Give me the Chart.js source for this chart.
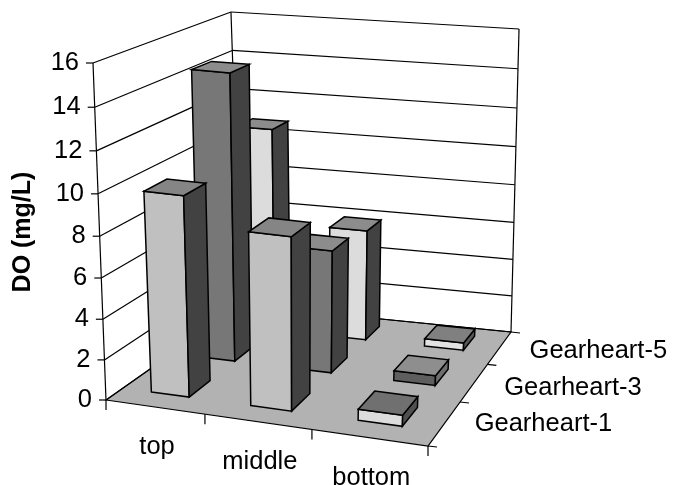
<!DOCTYPE html>
<html>
<head>
<meta charset="utf-8">
<style>
  html, body { margin: 0; padding: 0; background: #fff; }
  canvas { display: block; }
</style>
<script src="https://cdn.jsdelivr.net/npm/chart.js@4/dist/chart.umd.js"></script>
</head>
<body>
<canvas id="chart" width="673" height="485"></canvas>
<script>
// datos
const categorias = ["top", "middle", "bottom"];
const series = ["Gearheart-1", "Gearheart-3", "Gearheart-5"];
const gearheart1 = [9.85, 8.5, 0.55];
const gearheart3 = [14.5, 6.25, 0.5];
const gearheart5 = [10.7, 5.85, 0.4];

// colores por barra: frente, lado, tapa
const frente1 = ["#c0c0c0", "#c0c0c0", "#dcdcdc"];
const frente3 = ["#777777", "#777777", "#5e5e5e"];
const frente5 = ["#dcdcdc", "#dcdcdc", "#e2e2e2"];
const lado1 = ["#424242", "#424242", "#505050"];
const lado3 = ["#424242", "#424242", "#6e6e6e"];
const lado5 = ["#424242", "#424242", "#585858"];
const tapa1 = ["#858585", "#858585", "#707070"];
const tapa3 = ["#8c8c8c", "#8c8c8c", "#8e8e8e"];
const tapa5 = ["#8c8c8c", "#8c8c8c", "#808080"];

const FUENTE = '"Liberation Sans", Arial, sans-serif';

// caja 3d: esquinas del piso, alto en cada esquina y fuga de las verticales
const piso = [[106, 400], [428, 446], [511, 332], [241, 305]];
const altos = [337, 345, 303, 293];
const FUGA_CAJA = [345, 6600];
const FUGA_BARRAS = [300, 4400];
const AJUSTE_FONDO = -5.2;
const PERSP = 0.0576;
const ANCHO_BARRA = 0.39;
const PROF_BARRA = 0.44;
const CORRE_U = -0.002;
const CORRE_V = 0.012;
const AJUSTE_SERIE = [0, 4, 2];

function homografia(q) {
  const [A, B, C, D] = q;
  const dx1 = B[0] - C[0], dy1 = B[1] - C[1];
  const dx2 = D[0] - C[0], dy2 = D[1] - C[1];
  const sx = A[0] - B[0] + C[0] - D[0], sy = A[1] - B[1] + C[1] - D[1];
  const det = dx1 * dy2 - dy1 * dx2;
  const g = (sx * dy2 - sy * dx2) / det;
  const h = (dx1 * sy - dy1 * sx) / det;
  const a = B[0] - A[0] + g * B[0], b = D[0] - A[0] + h * D[0];
  const d = B[1] - A[1] + g * B[1], e = D[1] - A[1] + h * D[1];
  return (u, v) => {
    const den = g * u + h * v + 1;
    return [(a * u + b * v + A[0]) / den, (d * u + e * v + A[1]) / den];
  };
}
const hPiso = homografia(piso);

function proyectar(u, v, w, fuga = FUGA_CAJA) {
  const t = w / (1 + PERSP * (1 - w));
  const p = hPiso(u, v);
  const alto =
    altos[0] * (1 - u) * (1 - v) + altos[1] * u * (1 - v) + altos[2] * u * v + altos[3] * (1 - u) * v;
  const s = alto / (fuga[1] - p[1]);
  const dx = (p[0] - fuga[0]) * s + Math.pow(v, 4) * (1 - u) * AJUSTE_FONDO;
  return [p[0] + dx * t, p[1] - alto * t];
}

// escala lineal con perspectiva: el eje queda inclinado
class EscalaPersp extends Chart.LinearScale {
  decimal(valor) {
    return (valor - this.min) / (this.max - this.min);
  }
  getPixelForValue(valor) {
    return proyectar(0, 0, this.decimal(valor))[1];
  }
  _computeLabelArea() {
    return undefined; // sin recorte, las etiquetas siguen el eje
  }
  _computeLabelItems(area) {
    const items = super._computeLabelItems(area);
    items.forEach((item, i) => {
      const w = this.decimal(this.ticks[i].value);
      item.options.translation[0] = proyectar(0, 0, w)[0] - 14;
      item.options.textAlign = "right";
    });
    return items;
  }
}
EscalaPersp.id = "persp";
Chart.register(EscalaPersp);

function poligono(ctx, puntos, relleno) {
  ctx.beginPath();
  puntos.forEach((p, i) => (i ? ctx.lineTo(p[0], p[1]) : ctx.moveTo(p[0], p[1])));
  ctx.closePath();
  if (relleno) {
    ctx.fillStyle = relleno;
    ctx.fill();
  }
  ctx.stroke();
}

function linea(ctx, a, b) {
  ctx.beginPath();
  ctx.moveTo(a[0], a[1]);
  ctx.lineTo(b[0], b[1]);
  ctx.stroke();
}

function fraccion(escala, i) {
  return (escala.getPixelForValue(i) - escala.left) / escala.width;
}

function dibujarCaja(chart, ctx) {
  const { x, y, z } = chart.scales;
  ctx.strokeStyle = "#000";
  ctx.lineWidth = 1.2;

  // piso
  poligono(ctx, piso, "#b2b2b2");

  // grilla en las paredes y marcas del eje
  y.ticks.forEach((t) => {
    const w = y.decimal(t.value);
    const a = proyectar(0, 0, w), b = proyectar(0, 1, w), c = proyectar(1, 1, w);
    linea(ctx, a, b);
    linea(ctx, b, c);
    linea(ctx, a, [a[0] - 7, a[1]]);
  });
  linea(ctx, proyectar(0, 0, 0), proyectar(0, 0, 1));
  linea(ctx, proyectar(0, 1, 0), proyectar(0, 1, 1));
  linea(ctx, proyectar(1, 1, 0), proyectar(1, 1, 1));

  // marcas de categoria y de serie
  for (let i = 0; i <= categorias.length; i++) {
    const p = proyectar(i / categorias.length, 0, 0);
    linea(ctx, p, [p[0], p[1] + 10]);
  }
  for (let i = 0; i <= series.length; i++) {
    const p = proyectar(1, i / series.length, 0);
    linea(ctx, p, [p[0] + 9, p[1] + 1]);
  }

  // textos de los ejes
  ctx.fillStyle = "#000";
  ctx.font = "25.5px " + FUENTE;
  ctx.textBaseline = "middle";
  ctx.textAlign = "center";
  x.getLabels().forEach((txt, i) => {
    const p = proyectar(fraccion(x, i), 0, 0);
    ctx.fillText(txt, p[0] + 2.5, p[1] + 40);
  });
  ctx.textAlign = "left";
  z.getLabels().forEach((txt, i) => {
    const p = proyectar(1, fraccion(z, i), 0);
    ctx.fillText(txt, p[0] + 30, p[1] + 1 + AJUSTE_SERIE[i]);
  });
}

function dibujarBarra(ctx, chart, ds, i, j) {
  const { x, y, z } = chart.scales;
  const du = (ANCHO_BARRA / categorias.length) / 2;
  const dv = (PROF_BARRA / series.length) / 2;
  const u = fraccion(x, i) + CORRE_U, v = fraccion(z, j) + CORRE_V;
  const w = y.decimal(ds.data[i]);
  const u0 = u - du, u1 = u + du, v0 = v - dv, v1 = v + dv;
  const P = (a, b, c) => proyectar(a, b, c, FUGA_BARRAS);

  poligono(ctx, [P(u0, v0, 0), P(u1, v0, 0), P(u1, v0, w), P(u0, v0, w)], ds.backgroundColor[i]);
  poligono(ctx, [P(u1, v0, 0), P(u1, v1, 0), P(u1, v1, w), P(u1, v0, w)], ds.ladoColor[i]);
  poligono(ctx, [P(u0, v0, w), P(u1, v0, w), P(u1, v1, w), P(u0, v1, w)], ds.tapaColor[i]);
}

const barras3d = {
  id: "barras3d",
  beforeDatasetsDraw(chart) {
    const ctx = chart.ctx;
    ctx.save();
    dibujarCaja(chart, ctx);
    ctx.strokeStyle = "#000";
    ctx.lineWidth = 1.5;
    // de atras hacia adelante
    for (let j = series.length - 1; j >= 0; j--) {
      const ds = chart.data.datasets[j];
      ds.data.forEach((_, i) => dibujarBarra(ctx, chart, ds, i, j));
    }
    ctx.restore();
    return false;
  },
};

new Chart(document.getElementById("chart"), {
  type: "bar",
  data: {
    labels: categorias,
    datasets: [
      { label: series[0], data: gearheart1, backgroundColor: frente1, ladoColor: lado1, tapaColor: tapa1 },
      { label: series[1], data: gearheart3, backgroundColor: frente3, ladoColor: lado3, tapaColor: tapa3 },
      { label: series[2], data: gearheart5, backgroundColor: frente5, ladoColor: lado5, tapaColor: tapa5 },
    ],
  },
  options: {
    responsive: false,
    animation: false,
    layout: { padding: { left: 8, top: 62, bottom: 83, right: 10 } },
    plugins: { legend: { display: false }, title: { display: false }, tooltip: { enabled: false } },
    scales: {
      x: { type: "category", offset: true, display: false },
      z: { type: "category", axis: "x", labels: series, offset: true, display: false },
      y: {
        type: "persp",
        min: 0,
        max: 16,
        grid: { display: false },
        border: { display: false },
        ticks: { stepSize: 2, color: "#000", font: { family: FUENTE, size: 25.5 } },
        title: { display: true, text: "DO (mg/L)", color: "#000", font: { family: FUENTE, size: 25, weight: "bold" }, padding: 0 },
      },
    },
  },
  plugins: [barras3d],
});
</script>
</body>
</html>
